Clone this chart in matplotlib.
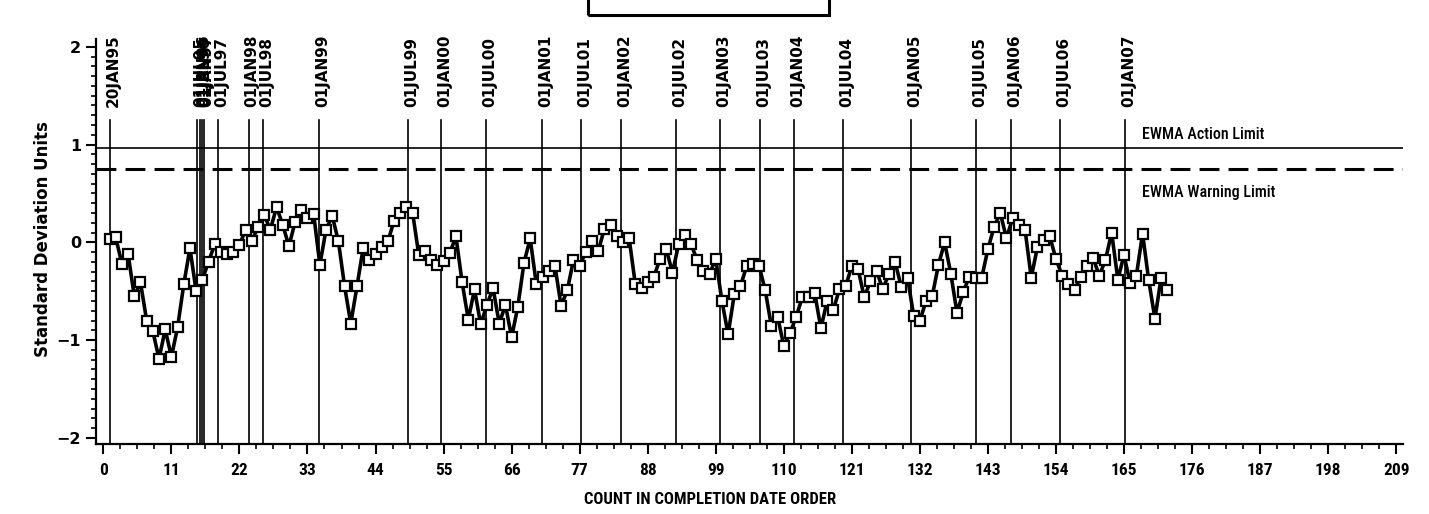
"""
EWMA chart of standard deviation units against completion count,
with date reference lines and action / warning limits.
"""
import numpy as np
import matplotlib
matplotlib.use("Agg")
import matplotlib.pyplot as plt
import matplotlib.font_manager as fm
from matplotlib.ticker import FixedLocator, MultipleLocator
from matplotlib.patches import Rectangle

# EWMA values, one per completed item (count 1..172)
ewma = [
    0.03, 0.05, -0.22, -0.12, -0.55, -0.41, -0.80, -0.91, -1.19, -0.89,
    -1.17, -0.87, -0.43, -0.06, -0.50, -0.38, -0.20, -0.02, -0.10, -0.12,
    -0.10, -0.03, 0.13, 0.01, 0.16, 0.28, 0.13, 0.36, 0.18, -0.04,
    0.21, 0.33, 0.25, 0.29, -0.23, 0.13, 0.27, 0.01, -0.45, -0.83,
    -0.45, -0.06, -0.18, -0.12, -0.05, 0.01, 0.22, 0.30, 0.36, 0.30,
    -0.13, -0.09, -0.18, -0.23, -0.19, -0.11, 0.06, -0.41, -0.79, -0.48,
    -0.84, -0.64, -0.47, -0.83, -0.64, -0.97, -0.66, -0.21, 0.04, -0.43,
    -0.35, -0.29, -0.24, -0.65, -0.49, -0.18, -0.24, -0.10, 0.01, -0.09,
    0.14, 0.18, 0.06, 0.00, 0.04, -0.43, -0.47, -0.41, -0.35, -0.17,
    -0.07, -0.31, -0.02, 0.07, -0.02, -0.18, -0.29, -0.32, -0.17, -0.60,
    -0.94, -0.53, -0.45, -0.24, -0.22, -0.24, -0.49, -0.86, -0.76, -1.06,
    -0.93, -0.76, -0.56, -0.56, -0.52, -0.88, -0.60, -0.69, -0.48, -0.45,
    -0.24, -0.27, -0.56, -0.40, -0.29, -0.48, -0.32, -0.20, -0.46, -0.36,
    -0.75, -0.80, -0.60, -0.55, -0.23, 0.00, -0.32, -0.72, -0.51, -0.35,
    -0.36, -0.36, -0.07, 0.16, 0.30, 0.04, 0.25, 0.18, 0.13, -0.36,
    -0.05, 0.02, 0.06, -0.17, -0.34, -0.43, -0.49, -0.35, -0.24, -0.16,
    -0.34, -0.18, 0.10, -0.38, -0.13, -0.42, -0.34, 0.09, -0.39, -0.78,
    -0.36, -0.49,
]
counts = np.arange(1, len(ewma) + 1)

# date reference lines (position on the count axis)
ref_dates = ["20JAN95", "01JUL95", "01JAN96", "01JUL96", "01JAN97", "01JUL97",
             "01JAN98", "01JUL98", "01JAN99", "01JUL99", "01JAN00", "01JUL00",
             "01JAN01", "01JUL01", "01JAN02", "01JUL02", "01JAN03", "01JUL03",
             "01JAN04", "01JUL04", "01JAN05", "01JUL05", "01JAN06", "01JUL06",
             "01JAN07"]
ref_counts = [1, 15.2, 15.6, 15.9, 16.2, 18.5, 23.5, 25.8, 34.9, 49.3, 54.6,
              61.9, 70.9, 77.2, 83.7, 92.6, 99.7, 106.2, 111.7, 119.6, 130.6,
              141.1, 146.8, 154.7, 165.2]

action_limit = 0.96
warning_limit = 0.746
x_ticks = list(range(0, 210, 11))
y_ticks = [-2, -1, 0, 1, 2]

# pick a narrow face for the SAS style labels, if one is installed
avail = {f.name for f in fm.fontManager.ttflist}
narrow_face = next((n for n in ["Liberation Sans Narrow", "DejaVu Sans Condensed",
                                "Roboto Condensed", "Open Sans Condensed", "Roboto"]
                    if n in avail), "DejaVu Sans")
NARROW = [narrow_face, "DejaVu Sans"]

fig = plt.figure(figsize=(14.29, 5.14), dpi=100)
ax = fig.add_axes([0.067, 0.1362, 0.9148, 0.7873])

# reference lines and their date labels
for xc, lab in zip(ref_counts, ref_dates):
    ax.plot([xc, xc], [-2.062, 1.25], color="black", lw=1.2, zorder=1)
    ax.annotate(lab, (xc, 1.385), xytext=(2.5, 0), textcoords="offset points",
                rotation=90, ha="center", va="bottom", fontsize=11,
                fontweight="bold", color="black")

# limits
ax.axhline(action_limit, color="black", lw=1.2, zorder=1)
ax.axhline(warning_limit, color="black", lw=2.2, dashes=(6.5, 3), zorder=1)
ax.text(167.9, 1.10, "EWMA Action Limit", family=NARROW, fontsize=11.5,
        fontweight="medium", va="center", ha="left")
ax.text(167.9, 0.51, "EWMA Warning Limit", family=NARROW, fontsize=11.5,
        fontweight="medium", va="center", ha="left")

# EWMA series
ax.plot(counts, ewma, color="black", lw=2.6, marker="s", markersize=6.8,
        markerfacecolor="white", markeredgecolor="black",
        markeredgewidth=1.6, zorder=3)

ax.set_xlim(-1.23, 210.1)
ax.set_ylim(-2.062, 2.076)
ax.xaxis.set_major_locator(FixedLocator(x_ticks))
ax.xaxis.set_minor_locator(MultipleLocator(2.75))
ax.yaxis.set_major_locator(FixedLocator(y_ticks))
ax.yaxis.set_minor_locator(MultipleLocator(0.1))
ax.spines["top"].set_visible(False)
ax.spines["right"].set_visible(False)
for s in ("left", "bottom"):
    ax.spines[s].set_linewidth(1.6)
ax.tick_params(which="major", direction="out", length=7, width=1.5)
ax.tick_params(which="minor", direction="out", length=3.5, width=1.2)
ax.tick_params(axis="x", which="major", pad=7)
for lbl in ax.get_xticklabels():
    lbl.set_family(NARROW)
    lbl.set_fontweight("bold")
    lbl.set_fontsize(12.5)
for lbl in ax.get_yticklabels():
    lbl.set_fontweight("bold")
    lbl.set_fontsize(11.5)

fig.text(0.497, 0.029, "COUNT IN COMPLETION DATE ORDER", family=NARROW,
         fontweight="bold", fontsize=12, ha="center", va="center")
fig.text(0.030, 0.535, "Standard Deviation Units", fontweight="bold",
         fontsize=12, rotation=90, ha="center", va="center")

# title box (mostly above the top edge of the picture)
fig.add_artist(Rectangle((588 / 1429, 1 - 15 / 514), 241 / 1429, 0.2,
                         transform=fig.transFigure, fill=False,
                         edgecolor="black", lw=2.2, clip_on=False))

fig.savefig("out.png", dpi=100)
